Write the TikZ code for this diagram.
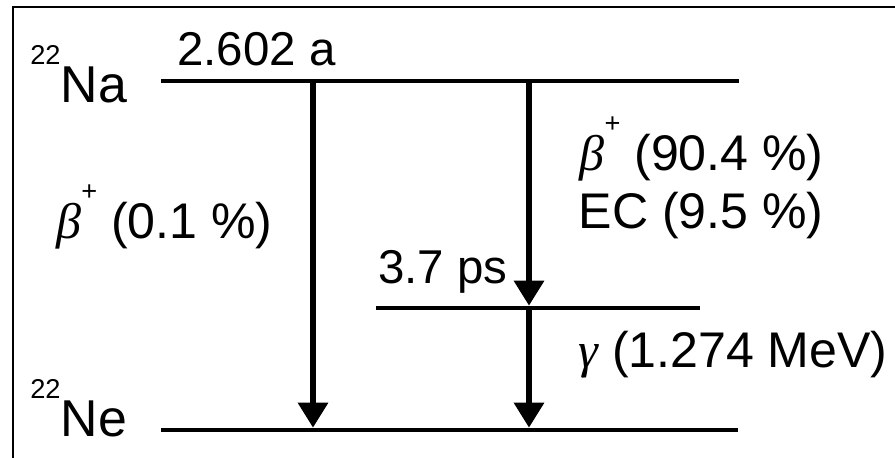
\documentclass[tikz,border=0pt]{standalone}
\usepackage{fontspec}
\setmainfont{Liberation Sans}
\newfontfamily\grk{Liberation Serif}
\usetikzlibrary{arrows.meta}

% raised small text (mass number, charge)
\newcommand{\up}[1]{\raisebox{0.76cm}{\fontsize{15.5}{15.5}\selectfont #1}}

\begin{document}
\begin{tikzpicture}[
  level/.style={line width=2.6pt},
  decay/.style={line width=3.4pt,-{Triangle[width=0.58cm,length=0.5cm]},shorten >=1.3pt},
  lbl/.style={inner sep=0pt,font=\fontsize{28.5}{34}\selectfont}]

\useasboundingbox (0,0) rectangle (17.9,9.14);

% Frame
\draw[line width=1.5pt] (0.26,-0.2) -- (0.26,9.0) -- (18.1,9.0);

%-------------------------------------------------
% Levels
%-------------------------------------------------

\coordinate (naW) at (3.22,7.52);
\coordinate (naE) at (14.77,7.52);
\coordinate (exW) at (7.52,2.98);
\coordinate (exE) at (14.0,2.98);
\coordinate (neW) at (3.22,0.54);
\coordinate (neE) at (14.76,0.54);

\draw[level] (naW) -- (naE);
\draw[level] (exW) -- (exE);
\draw[level] (neW) -- (neE);

\node[lbl,anchor=base west,font=\fontsize{29.5}{34}\selectfont] (na) at (0.6,7.1) {\up{22}Na};
\node[lbl,anchor=base west,font=\fontsize{29.5}{34}\selectfont] (ne) at (0.6,0.42) {\up{22}Ne};
\node[lbl,anchor=base west,font=\fontsize{27}{32}\selectfont] (tna) at (3.54,7.84) {2.602 a};
\node[lbl,anchor=base west,font=\fontsize{27}{32}\selectfont] (tex) at (7.56,3.48) {3.7 ps};

%-------------------------------------------------
% Decays
%-------------------------------------------------

\coordinate (naL) at (6.26,7.52);
\coordinate (neL) at (6.26,0.54);
\coordinate (naR) at (10.58,7.52);
\coordinate (exR) at (10.58,2.98);
\coordinate (neR) at (10.58,0.54);

\draw[decay] (naL) -- (neL);
\draw[decay] (naR) -- (exR);
\draw[decay] (exR) -- (neR);

\node[lbl,anchor=base east] (bl) at (5.46,4.38) {{\grk\itshape β}\up{+} (0.1 \%)};
\node[lbl,anchor=base east] (br) at (16.48,5.74) {{\grk\itshape β}\up{+} (90.4 \%)};
\node[lbl,anchor=base east] (ec) at (16.48,4.58) {EC (9.5 \%)};
\node[lbl,anchor=base east] (gm) at (17.76,1.8) {{\grk\itshape γ} (1.274 MeV)};

\end{tikzpicture}
\end{document}
